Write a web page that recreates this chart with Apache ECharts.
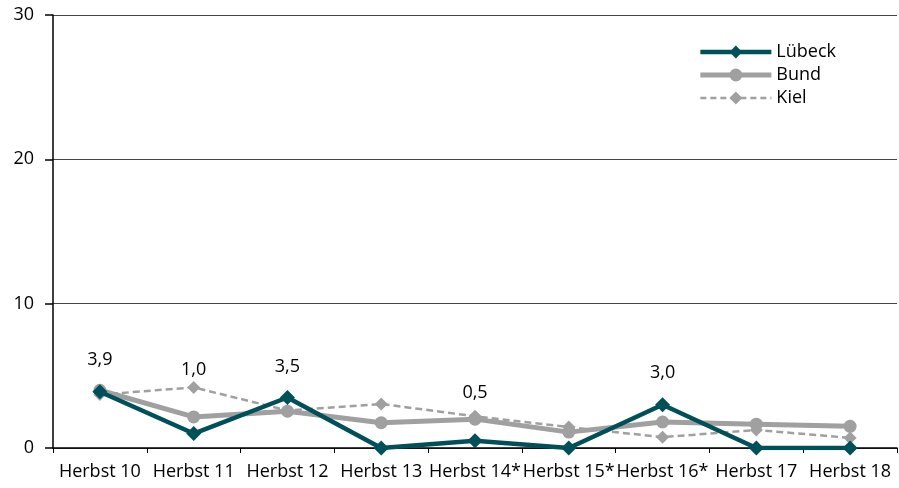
<!DOCTYPE html>
<html><head><meta charset="utf-8">
<script src="https://cdn.jsdelivr.net/npm/echarts@6/dist/echarts.min.js"></script>
<style>html,body{margin:0;padding:0;background:#fff}#c{width:899px;height:488px}</style>
</head><body><div id="c"></div>
<script>
const categories = ['Herbst 10','Herbst 11','Herbst 12','Herbst 13','Herbst 14*','Herbst 15*','Herbst 16*','Herbst 17','Herbst 18'];
const luebeck = [3.9, 1.0, 3.5, 0, 0.5, 0, 3.0, 0, 0];
const bund = [4.0, 2.15, 2.55, 1.75, 2.0, 1.1, 1.8, 1.65, 1.5];
const kiel = [3.7, 4.2, 2.6, 3.05, 2.2, 1.45, 0.75, 1.25, 0.7];
const yTicks = [0, 10, 20, 30];
const labelLift = [-32, -64, -31, 0, -48, 0, -32, 0, 0];

const FONT = '"Open Sans", "Noto Sans", sans-serif';
const TEAL = '#00505a', GREY = '#a0a0a0';
const chart = echarts.init(document.getElementById('c'));
chart.setOption({
  animation: false,
  textStyle: {fontFamily: FONT},
  grid: {left: 53, right: 2, top: 15, bottom: 40},
  legend: {
    orient: 'vertical', right: 58, top: 38, itemGap: 5,
    itemWidth: 71, itemHeight: 16,
    textStyle: {fontSize: 18, color: '#000', fontFamily: FONT},
    data: [
      {name: 'Lübeck', lineStyle: {width: 4.5, color: TEAL}},
      {name: 'Bund', lineStyle: {width: 5, color: GREY}},
      {name: 'Kiel', lineStyle: {width: 2.5, color: GREY, type: [6, 4]}}
    ]
  },
  xAxis: {
    type: 'category', data: categories, boundaryGap: true,
    axisLine: {lineStyle: {color: '#000', width: 1.5}},
    axisTick: {show: true, length: 5, lineStyle: {color: '#000'}},
    axisLabel: {interval: 0, fontSize: 18, color: '#000', margin: 15, fontFamily: FONT}
  },
  yAxis: {
    type: 'value', min: yTicks[0], max: yTicks[yTicks.length - 1], interval: 10,
    axisLine: {show: true, lineStyle: {color: '#000', width: 1.5}},
    axisTick: {show: true, length: 8, lineStyle: {color: '#000', width: 1.5}},
    axisLabel: {fontSize: 18, color: '#000', margin: 19, fontFamily: FONT},
    splitLine: {lineStyle: {color: '#444', width: 1}}
  },
  series: [
    {
      name: 'Kiel', type: 'line', z: 2,
      data: kiel, symbol: 'diamond', symbolSize: 13,
      lineStyle: {color: GREY, width: 2.5, type: [7, 4]},
      itemStyle: {color: GREY}
    },
    {
      name: 'Bund', type: 'line', z: 3,
      data: bund, symbol: 'circle', symbolSize: 13,
      lineStyle: {color: GREY, width: 5},
      itemStyle: {color: GREY}
    },
    {
      name: 'Lübeck', type: 'line', z: 4,
      data: luebeck.map((v, i) => ({
        value: v,
        label: {show: v > 0, position: 'inside', offset: [0, labelLift[i]]}
      })),
      symbol: 'diamond', symbolSize: 15,
      lineStyle: {color: TEAL, width: 4.5},
      itemStyle: {color: TEAL},
      label: {fontSize: 18, color: '#000', fontFamily: FONT,
        formatter: p => p.value.toFixed(1).replace('.', ',')}
    }
  ]
});
</script></body></html>
